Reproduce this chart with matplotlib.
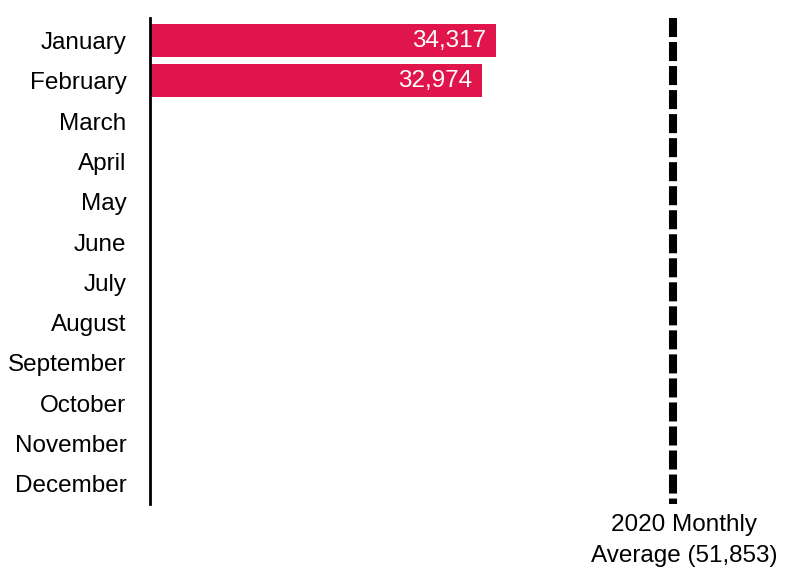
import matplotlib
matplotlib.use("Agg")
import matplotlib.pyplot as plt
import matplotlib.transforms as mtransforms
import numpy as np

plt.rcParams['font.family'] = ['Liberation Sans', 'DejaVu Sans']
plt.rcParams['lines.scale_dashes'] = False

months = ["January", "February", "March", "April", "May", "June", "July",
          "August", "September", "October", "November", "December"]
values = [34317, 32974, None, None, None, None, None, None, None, None, None, None]
monthly_average = 51853
average_label = "2020 Monthly\nAverage (51,853)"

bar_color = "#DF154C"
font_size = 17.5

fig = plt.figure(figsize=(7.96, 5.71), dpi=100)
ax = fig.add_axes([150 / 796, 67 / 571, 630 / 796, 486 / 571])

y = np.arange(len(months))
for yi, v in zip(y, values):
    if v is None:
        continue
    ax.barh(yi, v, height=0.82, color=bar_color, edgecolor="none")
    ax.text(v - 1000, yi, f"{v:,}", ha="right", va="center",
            color="white", fontsize=font_size)

ax.set_xlim(0, 62480)
ax.set_ylim(len(months) - 0.5, -0.56)
ax.set_yticks(y)
ax.set_yticklabels(months, fontsize=font_size)
ax.tick_params(axis="y", length=0, pad=17)
ax.set_xticks([])

for side in ("top", "right", "bottom"):
    ax.spines[side].set_visible(False)
ax.spines["left"].set_linewidth(2)
ax.spines["left"].set_color("black")

# dashed reference line for the monthly average, drawn from the top down
avg_line, = ax.plot([monthly_average, monthly_average], [1, 0],
                    transform=ax.get_xaxis_transform(), color="black",
                    linewidth=5.8, clip_on=False, solid_capstyle="butt")
avg_line.set_dashes((13.7, 3.6))
avg_line.set_dash_capstyle("butt")

label_shift = mtransforms.ScaledTranslation(0.11, 0, fig.dpi_scale_trans)
ax.text(monthly_average, -0.02, average_label,
        transform=ax.get_xaxis_transform() + label_shift,
        ha="center", va="top", fontsize=font_size, linespacing=1.55,
        color="black")

fig.savefig("out.png", dpi=100)
